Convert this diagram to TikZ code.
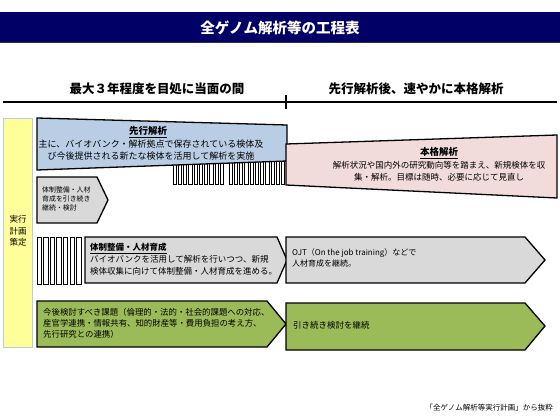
\documentclass[tikz,border=0pt]{standalone}
\usepackage{fontspec}
\setmainfont{Noto Sans CJK JP}
\definecolor{navy}{RGB}{0,0,102}
\definecolor{bluefill}{HTML}{B9CDE5}
\definecolor{pinkfill}{HTML}{F2DCDB}
\definecolor{grayfill}{HTML}{D9D9D9}
\definecolor{greenfill}{HTML}{9BBB59}
\definecolor{yellowfill}{HTML}{FFFF99}
\definecolor{yellowline}{HTML}{B8CCE4}
\begin{document}
\begin{tikzpicture}[x=1pt,y=-1pt,
  boxline/.style={draw=black,line width=1.3pt,line join=miter},
  stripe/.style={draw=black,fill=white,line width=0.9pt},
  txt/.style={inner sep=0pt,text=black},
  lefttxt/.style={txt,anchor=west,align=left},
  headtxt/.style={txt,font=\fontsize{12.5}{14}\selectfont\bfseries}]
\useasboundingbox (0,0) rectangle (560,420);
\fill[white] (0,0) rectangle (560,420);
% title bar
\fill[navy] (0,12) rectangle (560,43);
\draw[black!80,line width=1pt] (0,43) -- (560,43);
\node[txt,text=white,font=\fontsize{14.5}{16}\selectfont\bfseries] (title) at (280,27.5) {全ゲノム解析等の工程表};
% timeline
\coordinate (tlL) at (3,102);
\coordinate (tlR) at (557,102);
\coordinate (tkT) at (286,95);
\coordinate (tkB) at (286,109);
\draw[line width=1.8pt] (tlL) -- (tlR);
\draw[line width=1.8pt] (tkT) -- (tkB);
\node[headtxt] (h1) at (157,89) {最大３年程度を目処に当面の間};
\node[headtxt] (h2) at (416,89) {先行解析後、速やかに本格解析};
% yellow column
\draw[fill=yellowfill,draw=yellowline,line width=1pt] (3,118) rectangle (32,347);
\node[txt,align=center,font=\fontsize{8.5}{11.5}\selectfont] (plan) at (18,231) {実行\\計画\\策定};
% stripes under blue box
\foreach \i in {0,...,9} { \draw[stripe] (173+\i*5.25,160) rectangle (176.4+\i*5.25,184); }
\foreach \i in {0,...,10} { \draw[stripe] (229+\i*5.25,160) rectangle (232.4+\i*5.25,184); }
% blue wedge
\draw[boxline,fill=bluefill] (37,118) -- (287,125) -- (287,161) -- (37,170) -- cycle;
\node[txt,font=\fontsize{9.5}{11}\selectfont\bfseries] (b1) at (148,132) {\underline{先行解析}};
\node[txt,align=center,font=\fontsize{9}{12}\selectfont] (b2) at (151,150) {主に、バイオバンク・解析拠点で保存されている検体及\\び今後提供される新たな検体を活用して解析を実施};
% pink wedge
\draw[boxline,fill=pinkfill] (286,144) -- (557,135) -- (557,198) -- (286,185) -- cycle;
\node[txt,font=\fontsize{9.5}{11}\selectfont\bfseries] (p1) at (439,153) {\underline{本格解析}};
\node[txt,align=center,font=\fontsize{8.5}{12.5}\selectfont] (p2) at (439,171.5) {解析状況や国内外の研究動向等を踏まえ、新規検体を収\\集・解析。目標は随時、必要に応じて見直し};
% small gray pentagon
\draw[boxline,fill=grayfill] (37,177) -- (97,177) -- (108,200) -- (97,223) -- (37,223) -- cycle;
\node[lefttxt,font=\fontsize{6.9}{9}\selectfont] (g0) at (42,199) {体制整備・人材\\育成を引き続き\\継続・検討};
% stripes left of big gray
\foreach \i in {0,...,6} { \draw[stripe] (37+\i*6.6,237) rectangle (41.5+\i*6.6,284); }
% big gray pentagon
\draw[boxline,fill=grayfill] (85,237) -- (277,237) -- (287,260) -- (277,283) -- (85,283) -- cycle;
\node[lefttxt,font=\fontsize{8.5}{12}\selectfont] (g1) at (90,259.5) {\textbf{\underline{体制整備・人材育成}}\\バイオバンクを活用して解析を行いつつ、新規\\検体収集に向けて体制整備・人材育成を進める。};
% OJT pentagon
\draw[boxline,fill=grayfill] (286,237) -- (525,237) -- (545,260) -- (525,283) -- (286,283) -- cycle;
\node[lefttxt,font=\fontsize{8}{10.5}\selectfont] (g2) at (292,258) {OJT（On the job training）などで\\人材育成を継続。};
% green pentagons
\draw[boxline,fill=greenfill] (37,301) -- (267,301) -- (286,324) -- (267,347) -- (37,347) -- cycle;
\node[lefttxt,font=\fontsize{8.4}{11}\selectfont] (k1) at (43,323) {今後検討すべき課題（倫理的・法的・社会的課題への対応、\\産官学連携・情報共有、知的財産等・費用負担の考え方、\\先行研究との連携）};
\draw[boxline,fill=greenfill] (286,303) -- (525,303) -- (545,326) -- (525,350) -- (286,350) -- cycle;
\node[lefttxt,font=\fontsize{8.5}{11}\selectfont] (k2) at (293,325) {引き続き検討を継続};
% source
\node[txt,anchor=east,font=\fontsize{7.5}{9}\selectfont] (src) at (553,408) {「全ゲノム解析等実行計画」から抜粋};
\end{tikzpicture}
\end{document}
